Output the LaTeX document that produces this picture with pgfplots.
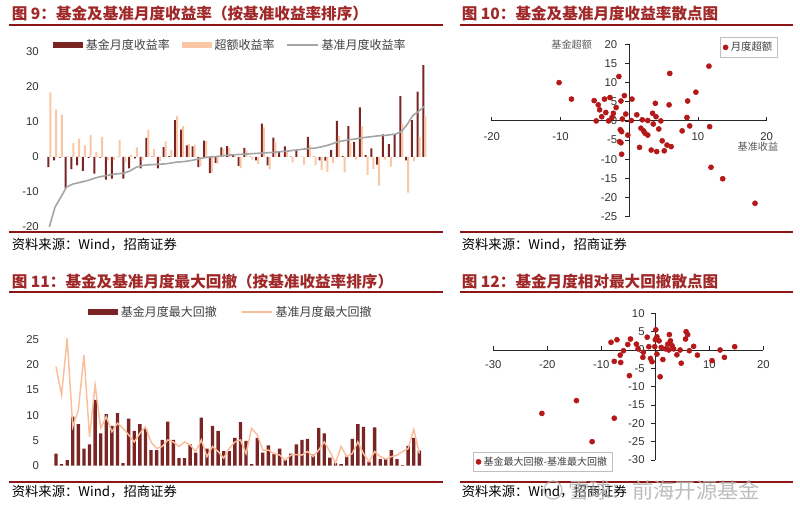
\documentclass[border=0pt]{standalone}
\usepackage{fontspec}
\setmainfont{Liberation Sans}
\newfontfamily\cjk{Noto Sans CJK SC}
\usepackage{pgfplots}
\usepackage{pgfplotstable}
\pgfplotsset{compat=1.18}

\definecolor{darkbar}{RGB}{122,36,36}
\definecolor{lightbar}{RGB}{250,198,165}
\definecolor{grayline}{RGB}{165,165,165}
\definecolor{titlered}{RGB}{160,40,40}
\definecolor{rulered}{RGB}{140,22,22}
\definecolor{dotred}{RGB}{180,24,24}
\definecolor{peach}{RGB}{250,190,155}

% fig 9: fund return, excess return, benchmark return (sorted by benchmark)
\pgfplotstableread{
i fund exc bench
0 -2.9 18.4 -20.0
1 -1.0 13.5 -14.3
2 -0.2 12.0 -11.5
3 -9.0 0.3 -8.6
4 -3.5 4.0 -7.8
5 -2.4 5.2 -7.4
6 -4.0 3.3 -7.0
7 -0.3 6.2 -6.6
8 -4.8 1.4 -6.0
9 -0.2 5.7 -5.6
10 -6.5 -1.0 -5.3
11 -6.2 -1.0 -5.0
12 -0.1 4.8 -4.8
13 -6.2 -1.5 -4.6
14 -3.3 0.5 -4.0
15 -0.4 2.7 -3.0
16 -3.3 -0.8 -2.5
17 5.4 7.8 -2.3
18 0.1 2.2 -2.2
19 -3.3 -1.2 -2.1
20 2.8 4.4 -2.0
21 0.2 2.0 -1.8
22 10.5 11.7 -1.5
23 7.8 8.8 -1.4
24 3.3 3.7 -1.2
25 3.0 3.5 -0.9
26 -2.9 -2.7 -0.5
27 4.6 4.5 -0.2
28 -4.6 -4.5 0.0
29 -1.7 -1.9 0.1
30 2.7 2.3 0.3
31 3.1 2.6 0.5
32 0.6 0.2 0.6
33 -2.6 -3.2 0.7
34 2.6 1.8 0.8
35 0.1 -0.8 0.9
36 -1.0 -2.0 1.0
37 9.5 8.4 1.1
38 -2.4 -3.6 1.2
39 5.5 4.2 1.3
40 1.4 -0.1 1.5
41 3.0 1.4 1.6
42 0.1 -1.6 1.8
43 1.9 -0.1 2.0
44 0.0 -2.2 2.2
45 5.7 3.3 2.4
46 0.1 -2.4 2.5
47 -1.0 -3.8 2.8
48 -1.1 -4.3 3.2
49 1.9 -1.8 3.7
50 10.3 5.9 4.3
51 0.2 -4.4 4.6
52 8.8 3.9 4.9
53 4.3 -0.8 5.1
54 14.1 8.7 5.4
55 0.5 -5.1 5.6
56 2.4 -3.4 5.8
57 -2.2 -8.2 6.0
58 6.4 -0.8 6.1
59 3.6 -2.8 6.3
60 6.4 -0.2 6.5
61 17.3 9.5 7.2
62 -1.0 -10.2 9.2
63 10.5 -1.3 11.8
64 18.6 5.6 13.0
65 26.2 11.7 14.4
}\retdata

% fig 11: monthly max drawdown, fund and benchmark
\pgfplotstableread{
i fund bench
0 2.4 19.6
1 0.3 14.0
2 1.1 25.2
3 9.7 7.7
4 8.2 11.0
5 3.4 21.9
6 4.2 5.7
7 13.0 16.0
8 6.4 7.4
9 10.2 9.7
10 7.9 6.7
11 10.4 8.4
12 0.5 7.4
13 9.3 6.1
14 6.9 4.7
15 8.2 6.4
16 7.4 7.7
17 3.1 4.7
18 3.1 3.4
19 5.1 3.8
20 8.7 5.1
21 5.1 4.7
22 1.5 3.8
23 1.5 4.7
24 4.2 4.1
25 2.6 2.8
26 9.5 5.1
27 3.4 1.8
28 7.9 3.8
29 6.9 2.8
30 2.9 1.5
31 2.9 3.4
32 5.5 4.7
33 8.6 5.1
34 4.9 2.4
35 0.3 7.4
36 5.5 6.1
37 2.6 3.1
38 4.0 3.1
39 2.3 2.4
40 3.4 2.1
41 1.1 1.1
42 2.4 2.1
43 4.2 2.2
44 5.1 2.1
45 5.3 2.8
46 2.2 1.8
47 7.5 3.1
48 6.4 4.7
49 1.6 2.8
50 0.5 0.5
51 0.3 3.8
52 1.8 1.8
53 5.3 2.4
54 8.2 4.7
55 7.7 2.4
56 0.8 0.8
57 7.6 2.8
58 1.3 1.8
59 1.3 1.3
60 3.1 1.8
61 1.3 2.1
62 0.1 2.8
63 3.9 3.4
64 5.5 7.2
65 3.0 2.4
}\dddata

% fig 10: benchmark return vs excess return
\pgfplotstableread{
x y
-10.2 10.0
-8.4 5.7
-5.1 5.3
-4.5 4.2
-4.3 2.9
-3.6 5.7
-2.8 6.1
-3.4 2.2
-4.0 1.1
-4.8 0.0
-3.0 0.0
-2.3 2.0
-1.9 3.5
-2.5 0.9
-1.5 11.6
-1.2 5.2
-0.7 6.6
-0.5 1.8
-1.0 0.5
0.4 5.7
0.3 0.1
-1.3 -2.3
-1.1 -2.8
-0.2 -3.7
-1.4 -5.4
-1.2 -5.7
-1.1 -8.7
1.1 1.6
1.5 -6.9
1.9 0.3
2.7 0.1
1.7 -1.9
2.1 -2.6
2.3 -3.2
2.7 -3.7
3.2 -7.6
3.4 2.0
3.8 4.6
3.9 1.1
3.5 -0.8
4.3 -2.1
4.6 0.0
4.0 -8.0
4.8 -5.2
5.1 -7.8
5.5 -6.3
6.1 -6.7
5.9 12.4
5.8 4.2
7.7 -2.6
8.4 0.9
8.5 5.2
8.8 -1.3
9.7 7.5
11.6 14.3
11.7 -1.5
11.9 -12.1
13.6 -15.1
18.3 -21.5
}\scatA

% fig 12: relative max drawdown
\pgfplotstableread{
x y
-21.0 -17.3
-14.6 -13.8
-11.7 -25.0
-7.6 -18.6
-8.2 2.1
-7.1 2.8
-7.6 -3.1
-6.4 -3.4
-6.5 -1.4
-5.9 -0.2
-5.1 1.5
-4.6 3.0
-4.8 -7.0
-3.5 1.6
-3.2 0.3
-2.2 -0.6
-2.3 -2.0
-1.5 3.5
-1.2 0.9
-0.9 -2.3
-0.6 -3.2
-0.1 0.9
0.1 5.5
0.3 3.6
0.0 2.8
0.7 2.5
0.3 -1.1
1.1 0.7
1.4 -2.6
0.9 -7.3
1.9 0.3
2.3 1.6
2.6 4.2
2.8 2.5
3.1 1.2
2.5 0.0
3.4 0.3
4.0 -1.3
4.8 -3.6
4.6 0.0
5.7 5.0
6.0 4.2
5.6 3.0
6.3 -0.2
7.1 1.0
7.8 -1.4
10.5 -2.9
12.0 0.0
12.8 -2.0
14.7 0.9
}\scatB

\pgfplotsset{
  every axis/.append style={
    /pgf/number format/assume math mode=true,
    tick label style={font=\fontsize{8.5}{9}\selectfont, text=black!80},
  },
}

\begin{document}
\begin{tikzpicture}
\begin{scope}[x=0.75pt,y=-0.75pt]
\useasboundingbox (0,0) rectangle (800,514);
\coordinate (A9) at (43.5,227);
\coordinate (A10) at (491.7,216.7);
\coordinate (A11) at (50.4,465.7);
\coordinate (A12) at (493.3,460);

% titles, rules, sources
\tikzset{ttl/.style={anchor=west, inner sep=0pt, text=titlered, font=\cjk\bfseries\fontsize{11.7}{12}\selectfont},
         src/.style={anchor=west, inner sep=0pt, font=\cjk\fontsize{10}{11}\selectfont},
         rl/.style={draw=rulered, line width=1.6pt}}
\node[ttl] at (11.5,14) {图 9：基金及基准月度收益率（按基准收益率排序）};
\node[ttl] at (461.5,14) {图 10：基金及基准月度收益率散点图};
\node[ttl] at (11.5,281.5) {图 11：基金及基准月度最大回撤（按基准收益率排序）};
\node[ttl] at (461.5,281.5) {图 12：基金月度相对最大回撤散点图};
\draw[rl] (9,25) -- (443,25);
\draw[rl] (460,25) -- (793,25);
\draw[rl] (9,232) -- (443,232);
\draw[rl] (460,232) -- (793,232);
\draw[rl] (9,292) -- (443,292);
\draw[rl] (460,292) -- (793,292);
\draw[rl] (9,482) -- (443,482);
\draw[rl] (460,482) -- (793,482);
\node[src] at (11.5,244.5) {资料来源：Wind，招商证券};
\node[src] at (461.5,244.5) {资料来源：Wind，招商证券};
\node[src] at (11.5,492) {资料来源：Wind，招商证券};
\node[src] at (461.5,492) {资料来源：Wind，招商证券};
\end{scope}

% ---------- fig 9 ----------
\begin{axis}[at={(A9)}, anchor=south west, scale only axis,
  width=290pt, height=131.5pt,
  xmin=-1, xmax=66, ymin=-20, ymax=30, clip=false,
  axis x line=none, axis y line*=left, y axis line style={draw=none},
  ytick={-20,-10,...,30}, major tick length=0pt,
  legend columns=3,
  legend style={at={(0.0246,1.038)}, anchor=west, draw=none, fill=none,
    inner sep=0pt, font=\cjk\fontsize{9}{10}\selectfont, text=black!75,
    /tikz/every even column/.append style={column sep=7pt}},
]
\addplot[ybar, bar width=1.5pt, bar shift=-0.75pt, fill=darkbar, draw=none,
  legend image code/.code={\fill[darkbar] (0pt,-2pt) rectangle (22.5pt,2pt);}]
  table[x=i,y=fund]{\retdata};
\addlegendentry{基金月度收益率}
\addplot[ybar, bar width=1.5pt, bar shift=0.75pt, fill=lightbar, draw=none,
  legend image code/.code={\fill[lightbar] (0pt,-2pt) rectangle (22.5pt,2pt);}]
  table[x=i,y=exc]{\retdata};
\addlegendentry{超额收益率}
\addplot[no marks, color=grayline, line width=1.2pt,
  legend image code/.code={\draw[grayline, line width=1.2pt] (0pt,0pt) -- (23pt,0pt);}]
  table[x=i,y=bench]{\retdata};
\addlegendentry{基准月度收益率}
\end{axis}

% ---------- fig 10 ----------
\begin{axis}[at={(A10)}, anchor=south west, scale only axis,
  width=206.25pt, height=129.3pt,
  xmin=-20, xmax=20, ymin=-25, ymax=20, clip=false,
  axis lines=middle, axis line style={-, black!85, line width=0.75pt},
  xtick={-20,-10,10,20}, ytick={-25,-20,...,20},
  hide obscured x ticks=false, hide obscured y ticks=false,
  major tick length=3pt, tick style={black!85, line width=0.6pt},
  x tick style={yshift=1.5pt}, y tick style={xshift=-1.5pt},
  xticklabel style={yshift=-4pt}, yticklabel style={xshift=-4pt},
  xlabel={基准收益}, ylabel={基金超额},
  xlabel style={at={(axis description cs:0.968,0.406)}, anchor=center,
    font=\cjk\fontsize{7.6}{8}\selectfont, text=black!65},
  ylabel style={at={(axis description cs:0.291,0.996)}, anchor=center, rotate=0,
    font=\cjk\fontsize{7.6}{8}\selectfont, text=black!65},
  legend style={at={(1.041,1.042)}, anchor=north east, draw=black!25, fill=white,
    font=\cjk\fontsize{7.8}{9}\selectfont, text=black!75, inner xsep=2pt, inner ysep=1.5pt},
]
\addplot[only marks, mark=*, mark size=1.9pt, color=dotred] table[x=x,y=y]{\scatA};
\addlegendentry{月度超额}
\end{axis}

% ---------- fig 11 ----------
\begin{axis}[at={(A11)}, anchor=south west, scale only axis,
  width=280.9pt, height=98.6pt,
  xmin=-1, xmax=66, ymin=0, ymax=26, clip=false,
  axis x line=none, axis y line*=left, y axis line style={draw=none},
  ytick={0,5,...,25}, major tick length=0pt, yticklabel style={xshift=-5pt},
  legend columns=2,
  legend style={at={(0.1004,1.169)}, anchor=west, draw=none, fill=none,
    inner sep=0pt, font=\cjk\fontsize{9}{10}\selectfont, text=black!75,
    /tikz/every even column/.append style={column sep=16pt}},
]
\addplot[ybar, bar width=2.5pt, bar shift=0pt, fill=darkbar, draw=none,
  legend image code/.code={\fill[darkbar] (0pt,-2pt) rectangle (22.5pt,2pt);}]
  table[x=i,y=fund]{\dddata};
\addlegendentry{基金月度最大回撤}
\addplot[no marks, color=peach, line width=1.1pt,
  legend image code/.code={\draw[peach, line width=1.1pt] (0pt,0pt) -- (23pt,0pt);}]
  table[x=i,y=bench]{\dddata};
\addlegendentry{基准月度最大回撤}
\end{axis}

% ---------- fig 12 ----------
\begin{axis}[at={(A12)}, anchor=south west, scale only axis,
  width=202.5pt, height=110pt,
  xmin=-30, xmax=20, ymin=-30, ymax=10, clip=false,
  axis lines=middle, axis line style={-, black!85, line width=0.75pt},
  xtick={-30,-20,-10,10,20}, ytick={-30,-25,...,10},
  hide obscured x ticks=false, hide obscured y ticks=false,
  major tick length=3pt, tick style={black!85, line width=0.6pt},
  x tick style={yshift=1.5pt}, y tick style={xshift=-1.5pt},
  xticklabel style={yshift=-3pt}, yticklabel style={xshift=-3pt},
  legend style={at={(-0.075,-0.082)}, anchor=south west, draw=black!25, fill=white,
    font=\cjk\fontsize{7.5}{9}\selectfont, text=black!75, inner xsep=2pt, inner ysep=1.5pt},
]
\addplot[only marks, mark=*, mark size=1.9pt, color=dotred] table[x=x,y=y]{\scatB};
\addlegendentry{基金最大回撤-基准最大回撤}
\end{axis}

% watermark over the last source line, as in the reference
\begin{scope}[x=0.75pt,y=-0.75pt]
\draw[black!30, line width=1pt, opacity=0.8] (553,490) circle (9);
\node[anchor=west, inner sep=0pt, text=black!30, opacity=0.85,
  font=\cjk\fontsize{16}{17}\selectfont] at (568,490) {雪球：前海开源基金};
\end{scope}
\end{tikzpicture}
\end{document}
